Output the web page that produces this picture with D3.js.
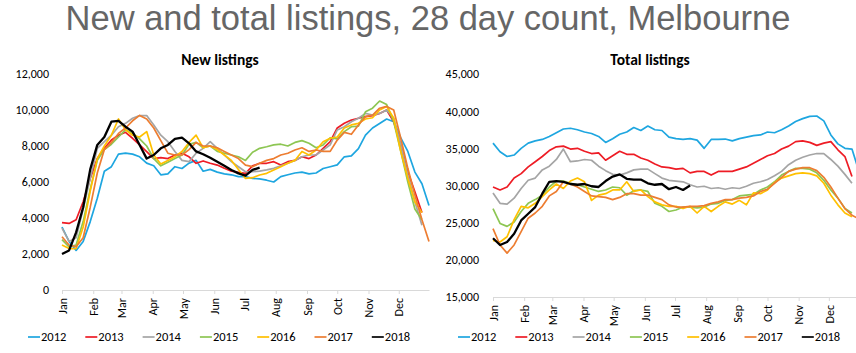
<!DOCTYPE html>
<html>
<head>
<meta charset="utf-8">
<script src="https://cdn.jsdelivr.net/npm/d3@7"></script>
<style>
  body { margin: 0; background: #fff; }
  svg { display: block; font-family: Calibri, Carlito, Lato, sans-serif; }
</style>
</head>
<body>
<svg width="856" height="353"></svg>
<script>
// data, weekly points of the 28 day count
var years = ["2012", "2013", "2014", "2015", "2016", "2017", "2018"]
var colors = ["#1ea6e0", "#ee1c25", "#a5a5a5", "#8dc653", "#ffc000", "#ed7d31", "#000000"]
var months = ["Jan", "Feb", "Mar", "Apr", "May", "Jun", "Jul", "Aug", "Sep", "Oct", "Nov", "Dec"]
var monthStartDay = [0, 31, 59, 90, 120, 151, 181, 212, 243, 273, 304, 334]

var newTicks = [0, 2000, 4000, 6000, 8000, 10000, 12000]
var totalTicks = [15000, 20000, 25000, 30000, 35000, 40000, 45000]

var new2012 = [3500, 2700, 2200, 2700, 3800, 5100, 6600, 6850, 7550, 7600, 7550, 7400, 7050, 6900, 6400, 6450, 6850, 6750, 7050, 7200, 6600, 6700, 6550, 6450, 6400, 6300, 6300, 6200, 6170, 6100, 6000, 6300, 6400, 6500, 6550, 6450, 6500, 6750, 6850, 6950, 7400, 7450, 7850, 8600, 9000, 9250, 9500, 9350, 8450, 7700, 6550, 5900, 4700]
var new2013 = [3740, 3700, 3900, 4900, 6200, 7300, 7870, 8330, 8600, 8760, 8430, 8060, 7690, 7300, 7350, 7300, 7500, 7600, 7400, 7040, 7170, 7040, 6940, 6760, 6600, 6540, 6480, 6900, 7040, 7040, 7130, 6940, 7130, 7200, 7400, 7300, 7500, 7870, 8240, 9000, 9260, 9440, 9540, 9630, 9690, 9810, 10000, 9350, 8060, 6570, 5460, 4300]
var new2014 = [3440, 2700, 2900, 4500, 6200, 7870, 8240, 8600, 9070, 9260, 9540, 9690, 9690, 9170, 8600, 8240, 7690, 7200, 7130, 7600, 7870, 8240, 7870, 7500, 7130, 6850, 6570, 6570, 6600, 6670, 6760, 6900, 7040, 7200, 7400, 7500, 7500, 7780, 8060, 8890, 9070, 9350, 9540, 9810, 9720, 9810, 10000, 9540, 8060, 6400, 4900, 3600]
var new2015 = [2800, 2400, 2500, 3800, 5600, 7200, 7800, 8100, 8500, 8900, 8700, 8400, 8000, 7300, 6900, 7100, 7300, 7500, 8100, 8200, 7900, 8000, 7700, 7600, 7500, 7400, 7200, 7650, 7870, 7960, 8060, 8100, 8000, 8200, 8300, 8150, 7900, 8060, 8460, 8400, 8800, 9070, 9100, 9900, 10100, 10500, 10300, 9350, 7700, 6000, 4500, 3900]
var new2016 = [2500, 2300, 2300, 3500, 5500, 7300, 8000, 8600, 9500, 8900, 8600, 8500, 8800, 7500, 7000, 7200, 7400, 7700, 8200, 8600, 7900, 8000, 7800, 7500, 7200, 6700, 6200, 6240, 6390, 6480, 6670, 6850, 7040, 7200, 7700, 7500, 7780, 8240, 8430, 8500, 9000, 9170, 9260, 9500, 9570, 10000, 10200, 9540, 7700, 6200, 4900, 4300]
var new2017 = [2960, 2500, 2400, 2900, 4600, 6500, 7800, 8200, 8700, 9000, 9400, 9700, 9500, 9000, 8300, 7600, 7500, 7500, 7800, 8200, 8000, 8000, 7900, 7700, 7500, 7300, 6940, 6850, 7040, 7200, 7300, 7500, 7600, 7780, 7900, 7700, 7780, 7700, 7700, 8330, 8760, 8650, 9170, 9630, 9720, 10100, 10200, 10000, 8430, 6760, 5280, 3900, 2700]
var new2018 = [2000, 2200, 3200, 4600, 6700, 8060, 8500, 9350, 9400, 9070, 8800, 8060, 7300, 7500, 7870, 8060, 8400, 8460, 8150, 7700, 7540, 7350, 7130, 6900, 6670, 6480, 6350, 6670, 6800]

var tot2012 = [35700, 34550, 33900, 34100, 35000, 35700, 36000, 36200, 36600, 37100, 37600, 37700, 37500, 37200, 37000, 36600, 35800, 36300, 36900, 37200, 37800, 37400, 38000, 37500, 37400, 36500, 36300, 36200, 36300, 36100, 35000, 36200, 36200, 36250, 36000, 36300, 36500, 36700, 36800, 37200, 37100, 37500, 38000, 38600, 39000, 39300, 39350, 38700, 36800, 35600, 35000, 34900, 31900]
var tot2013 = [29800, 29400, 29800, 31000, 31600, 32500, 33200, 33900, 34700, 35200, 35300, 34900, 35000, 34600, 34300, 34400, 33400, 34000, 34600, 34200, 34200, 33700, 33400, 32900, 32500, 32400, 32200, 32300, 31700, 31900, 31900, 31400, 31900, 31900, 31900, 32200, 32500, 33000, 33500, 34000, 34300, 34900, 35300, 35900, 36000, 35800, 35400, 35700, 35900, 34800, 33900, 31200]
var tot2014 = [29000, 27600, 27500, 28300, 29600, 30700, 31000, 32100, 32600, 33500, 34900, 33200, 33300, 33500, 33400, 32600, 32000, 31500, 31400, 31700, 32100, 32200, 32200, 31600, 31000, 30700, 30600, 30500, 30100, 29800, 29900, 29600, 29700, 29500, 29700, 29600, 29900, 30300, 30500, 30800, 31300, 31900, 32800, 33400, 33800, 34100, 34300, 34300, 33500, 32600, 31500, 30300]
var tot2015 = [26900, 24900, 24500, 25100, 26500, 27600, 28100, 28700, 29800, 30600, 30600, 30300, 30100, 29800, 29500, 29200, 29400, 29800, 29700, 28700, 29300, 29400, 29200, 27600, 27200, 26500, 26700, 27100, 27100, 27000, 27100, 27500, 27600, 28000, 28100, 28600, 28700, 28800, 29400, 29800, 30500, 31400, 31900, 32300, 32300, 32200, 31700, 30700, 29400, 28300, 26900, 26300]
var tot2016 = [22600, 22400, 23100, 25400, 27200, 27000, 27600, 28500, 29400, 30200, 29600, 30600, 31000, 30500, 28000, 28700, 28900, 29400, 29400, 30500, 29200, 29400, 28500, 27800, 27400, 27200, 27200, 26900, 27200, 26300, 27200, 26500, 27200, 27800, 27500, 28000, 27400, 29000, 28900, 29400, 30400, 31000, 31300, 31600, 31700, 31600, 31300, 30300, 28700, 27400, 26300, 25800]
var tot2017 = [24200, 22000, 20900, 22000, 23800, 25600, 26300, 27200, 28600, 29200, 30500, 30200, 29800, 29200, 28600, 28500, 28400, 28100, 28400, 28900, 28900, 28700, 28700, 28400, 28100, 27400, 27100, 27100, 27200, 27200, 27300, 27600, 27800, 28100, 28100, 28300, 28400, 28600, 29200, 29500, 30300, 31100, 31900, 32200, 32400, 32400, 32000, 31100, 29800, 28300, 26900, 26000, 25500]
var tot2018 = [22900, 22000, 22400, 23500, 25300, 26200, 27100, 28900, 30500, 30600, 30500, 30200, 30100, 30200, 29900, 29800, 30600, 31200, 31500, 30900, 30800, 30800, 30300, 30100, 30200, 29500, 29800, 29400, 30000]

var newSeries = [new2012, new2013, new2014, new2015, new2016, new2017, new2018]
var totSeries = [tot2012, tot2013, tot2014, tot2015, tot2016, tot2017, tot2018]

var svg = d3.select("svg")

svg.append("text")
    .attr("x", 428)
    .attr("y", 30)
    .attr("text-anchor", "middle")
    .style("font-family", "'Liberation Sans', Arial, sans-serif")
    .style("font-size", "34.5px")
    .attr("fill", "#666666")
    .text("New and total listings, 28 day count, Melbourne")

function drawPanel(opts) {
    var scX = d3.scaleLinear().domain([0, 52]).range([opts.x0, opts.x1])
    var scY = d3.scaleLinear().domain(opts.domain).range([opts.yBottom, opts.yTop])

    var g = svg.append("g")

    g.append("text")
        .attr("x", opts.titleX)
        .attr("y", 65)
        .attr("text-anchor", "middle")
        .style("font-size", "15.5px")
        .style("font-weight", "bold")
        .attr("fill", "#000")
        .text(opts.title)

    // y axis, labels only
    var yAxis = d3.axisLeft(scY)
        .tickValues(opts.ticks)
        .tickFormat(d3.format(","))
        .tickSize(0)
        .tickPadding(0)
    var yg = g.append("g")
        .attr("transform", `translate(${opts.labelRight}, 0)`)
        .call(yAxis)
    yg.select(".domain").remove()
    yg.selectAll("text")
        .style("font-family", "Calibri, Carlito, Lato, sans-serif")
        .style("font-size", "12px")
        .attr("fill", "#000")

    // x axis with month start ticks
    var xAxis = d3.axisBottom(scX)
        .tickValues(monthStartDay.map(d => d / 7))
        .tickFormat((d, i) => months[i])
        .tickSize(4)
        .tickSizeOuter(0)
    var xg = g.append("g")
        .attr("transform", `translate(0, ${opts.yBottom})`)
        .call(xAxis)
    xg.select(".domain").attr("stroke", "#d9d9d9")
    xg.selectAll(".tick line").attr("stroke", "#d9d9d9")
    xg.selectAll("text")
        .style("font-family", "Calibri, Carlito, Lato, sans-serif")
        .style("font-size", "12px")
        .attr("fill", "#000")
        .attr("text-anchor", "end")
        .attr("transform", "rotate(-90)")
        .attr("x", -8)
        .attr("y", 0)
        .attr("dy", "0.35em")

    var line = d3.line()
        .x((d, i) => scX(i))
        .y(d => scY(d))

    opts.series.forEach((s, i) => {
        g.append("path")
            .datum(s)
            .attr("fill", "none")
            .attr("stroke", colors[i])
            .attr("stroke-width", i == 6 ? 2.3 : 1.7)
            .attr("stroke-linejoin", "round")
            .attr("d", line)
    })

    // legend
    var leg = g.selectAll(".leg")
        .data(years)
        .enter().append("g")
        .attr("transform", (d, i) => `translate(${opts.legendX + i * 57.3}, 337)`)
    leg.append("line")
        .attr("x1", 0).attr("x2", 12)
        .attr("stroke", (d, i) => colors[i])
        .attr("stroke-width", 1.7)
    leg.append("text")
        .attr("x", 13)
        .attr("dy", "0.35em")
        .style("font-size", "12.5px")
        .attr("fill", "#000")
        .text(d => d)
}

drawPanel({
    title: "New listings", titleX: 220,
    x0: 62, x1: 429, yBottom: 290, yTop: 74,
    domain: [0, 12000], ticks: newTicks, labelRight: 49,
    series: newSeries, legendX: 28
})

drawPanel({
    title: "Total listings", titleX: 650,
    x0: 493, x1: 859, yBottom: 297, yTop: 74,
    domain: [15000, 45000], ticks: totalTicks, labelRight: 479,
    series: totSeries, legendX: 458
})
</script>
</body>
</html>
